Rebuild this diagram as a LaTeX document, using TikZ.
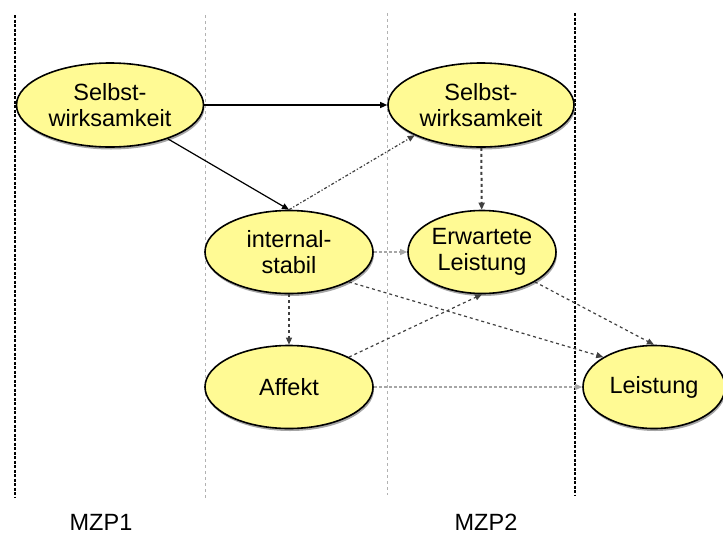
\documentclass[tikz,border=0pt]{standalone}
\usepackage{fontspec}
\setmainfont{Liberation Sans}
\usetikzlibrary{arrows.meta, positioning, shapes.geometric, shadows}

\begin{document}
\begin{tikzpicture}[x=1pt, y=-1pt,
		every node/.style={font=\fontsize{23.5}{26}\selectfont},
		var/.style={draw, ellipse, line width=1.6pt, fill=yellow!42,
			align=center, inner sep=0pt,
			drop shadow={shadow xshift=1pt, shadow yshift=-2.5pt, fill=gray!70, opacity=1}},
		arr/.style={-{Triangle[length=7pt, width=6pt]}, line width=1.2pt},
		darr/.style={arr, dashed, black!75},
		larr/.style={arr, densely dashed, gray!70},
		border/.style={line width=2.2pt, dashed, dash pattern=on 3pt off 1.5pt},
		sep/.style={line width=0.6pt, dashed, gray!60},
		]
		\useasboundingbox (0,0) rectangle (723,536);

		% time borders
		\draw[border] (15,15) -- (15,497);
		\draw[border] (575,13) -- (575,495);
		\draw[sep] (205,15) -- (205,498);
		\draw[sep] (387,13) -- (387,495);

		% MZP1
		\node[var, minimum width=187pt, minimum height=84pt] (sw1) at (110,105) {Selbst-\\wirksamkeit};
		\node[var, minimum width=168pt, minimum height=83pt] (intstab) at (289,252) {internal-\\stabil};
		\node[var, minimum width=168pt, minimum height=83pt] (affekt) at (289,387) {Affekt};

		% MZP2
		\node[var, minimum width=186pt, minimum height=84pt] (sw2) at (481,105) {Selbst-\\wirksamkeit};
		\node[var, minimum width=148pt, minimum height=83pt] (erwart) at (482,252) {Erwartete\\Leistung};
		\node[var, minimum width=142pt, minimum height=83pt] (leist) at (654,387) {Leistung};

		% labels
		\node (mzp1) at (101,522) {MZP1};
		\node (mzp2) at (486,522) {MZP2};

		% paths
		\draw[arr] (sw1) -- (sw2);
		\draw[arr] (sw1) -- (intstab.north);
		\draw[darr, dash dot] (intstab.north) -- (sw2.south west);
		\draw[darr, line width=2pt] (sw2) -- (erwart);
		\draw[larr] (intstab) -- (erwart);
		\draw[darr] (intstab) -- (affekt);
		\draw[darr] (intstab.south east) -- (leist.north west);
		\draw[darr] (affekt.north east) -- (erwart.south);
		\draw[darr] (erwart.south east) -- (leist.north);
		\draw[larr] (affekt) -- (leist);
\end{tikzpicture}
\end{document}
